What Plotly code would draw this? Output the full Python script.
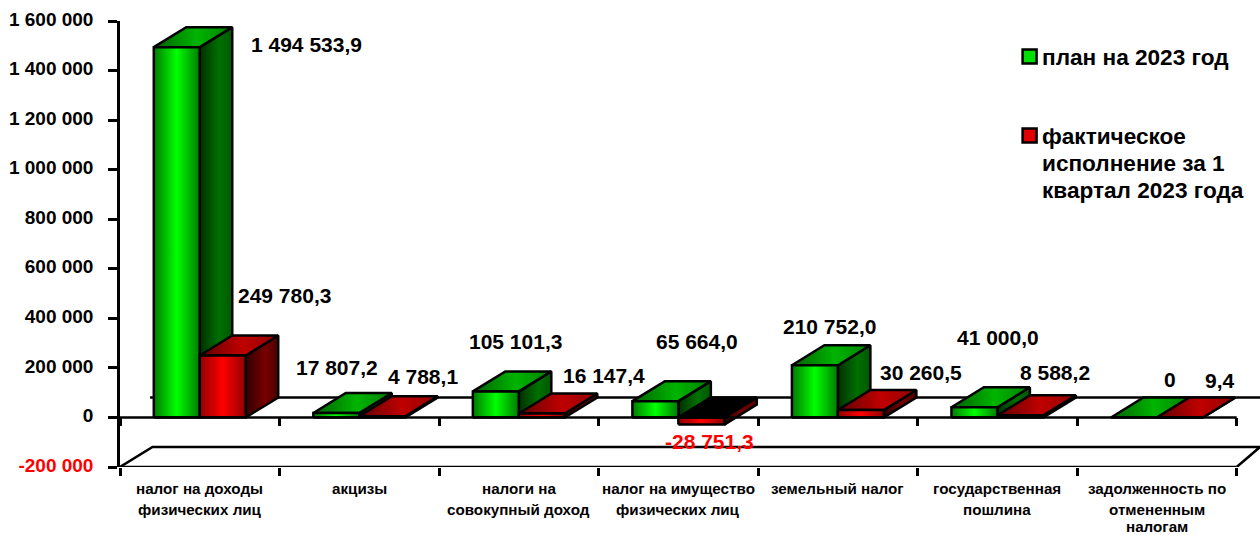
import plotly.graph_objects as go

# ---- data ----
categories = [
    ["налог на доходы", "физических лиц"],
    ["акцизы"],
    ["налоги на", "совокупный доход"],
    ["налог на имущество", "физических лиц"],
    ["земельный налог"],
    ["государственная", "пошлина"],
    ["задолженность по", "отмененным", "налогам"],
]
plan = [1494533.9, 17807.2, 105101.3, 65664.0, 210752.0, 41000.0, 0.0]
fact = [249780.3, 4788.1, 16147.4, -28751.3, 30260.5, 8588.2, 9.4]
plan_labels = ["1 494 533,9", "17 807,2", "105 101,3", "65 664,0", "210 752,0", "41 000,0", "0"]
fact_labels = ["249 780,3", "4 788,1", "16 147,4", "-28 751,3", "30 260,5", "8 588,2", "9,4"]
y_ticks = [-200000, 0, 200000, 400000, 600000, 800000, 1000000, 1200000, 1400000, 1600000]
y_tick_labels = ['<span style="color:#ff0000">-200 000</span>', "0", "200 000", "400 000", "600 000",
                 "800 000", "1 000 000", "1 200 000", "1 400 000", "1 600 000"]
legend_plan = ["план на 2023 год"]
legend_fact = ["фактическое", "исполнение за 1", "квартал 2023 года"]

# ---- layout constants ----
W, H = 1260, 535
L, R_PX, T, B_PX = 119.5, 1260.0, 20.6, 466.6
CAT_PX = 159.6
BAR = 46.0 / CAT_PX
DX = 32.5 / CAT_PX
DY = 20.0 * 1800000 / (B_PX - T)
X_MAX = (R_PX - L) / CAT_PX
FONT = "Liberation Sans"
LW = 2.5
CAT_LINE_Y = [488, 509, 526.5]

plan_shift = [(130, 2.7), (1, 45.6), (20, 50), (42, 59.7), (15, 38.8), (24, 69.8), (36, 38)]
fact_shift = [(62, 60), (41, 39.8), (62, 38), (8, -17), (60, 37.5), (34.5, 42.9), (40, 37)]

GREEN = dict(
    front=[[0, "#007a00"], [0.5, "#00ff00"], [1, "#007a00"]],
    top=[[0, "#006000"], [0.55, "#00b400"], [1, "#008000"]],
    side=[[0, "#003000"], [0.6, "#007000"], [1, "#005800"]],
)
RED = dict(
    front=[[0, "#900000"], [0.5, "#ff0000"], [1, "#900000"]],
    top=[[0, "#600000"], [0.55, "#c00000"], [1, "#900000"]],
    side=[[0, "#300000"], [0.6, "#780000"], [1, "#480000"]],
)


def poly(xs, ys, scale=None, solid=None):
    t = go.Scatter(
        x=xs + xs[:1], y=ys + ys[:1], mode="lines", fill="toself",
        line=dict(color="#000000", width=LW), hoverinfo="skip", showlegend=False,
    )
    if solid:
        t.fillcolor = solid
    else:
        t.fillgradient = dict(type="horizontal", colorscale=scale)
    return t


def bar3d(x0, v, pal):
    x1 = x0 + BAR
    top = max(v, 0)
    low = min(v, 0)
    out = [poly([x1, x1 + DX, x1 + DX, x1], [low, low + DY, top + DY, top], pal["side"])]
    # top face (seen in black for a negative value)
    if v < 0:
        out.append(poly([x0, x1, x1 + DX, x0 + DX], [0, 0, DY, DY], solid="#000000"))
    else:
        out.append(poly([x0, x1, x1 + DX, x0 + DX], [v, v, v + DY, v + DY], pal["top"]))
    if v != 0:
        out.append(poly([x0, x1, x1, x0], [low, low, top, top], pal["front"]))
    return out


fig = go.Figure()
n = len(categories)

# wall / floor lines
line = dict(color="#000000", width=LW)
fig.add_trace(go.Scatter(x=[DX - 0.015, X_MAX], y=[DY, DY], mode="lines", line=line,
                         hoverinfo="skip", showlegend=False))
fig.add_trace(go.Scatter(x=[0, DX, X_MAX, n], y=[-200000, -200000 + DY, -200000 + DY, -200000],
                         mode="lines", line=line, hoverinfo="skip", showlegend=False))
fig.add_trace(go.Scatter(x=[0, n], y=[-200000, -200000], mode="lines", line=line,
                         hoverinfo="skip", showlegend=False))

# bars
for i in range(n):
    for t in bar3d(i + 0.5 - BAR, plan[i], GREEN):
        fig.add_trace(t)
    for t in bar3d(i + 0.5, fact[i], RED):
        fig.add_trace(t)

# zero line, with its own ticks
fig.add_trace(go.Scatter(x=[0, n], y=[0, 0], mode="lines", line=line,
                         xaxis="x2", hoverinfo="skip", showlegend=False))

ann = []
# value labels
for i in range(n):
    ann.append(dict(x=i + 0.5 - BAR / 2, y=plan[i], text="<b>" + plan_labels[i] + "</b>", xshift=plan_shift[i][0],
                    yshift=plan_shift[i][1], showarrow=False,
                    font=dict(family=FONT, size=21, color="#000000")))
    ann.append(dict(x=i + 0.5 + BAR / 2, y=fact[i], text="<b>" + fact_labels[i] + "</b>", xshift=fact_shift[i][0],
                    yshift=fact_shift[i][1], showarrow=False,
                    font=dict(family=FONT, size=21, color="#ff0000" if fact[i] < 0 else "#000000")))


def px(x):
    return (x - L) / (R_PX - L)


def py(y):
    return (B_PX - y) / (B_PX - T)


# category labels, line by line
for i, lines in enumerate(categories):
    for j, s in enumerate(lines):
        ann.append(dict(x=i + 0.5, y=py(CAT_LINE_Y[j]), yref="paper", text="<b>" + s + "</b>", showarrow=False,
                        yanchor="middle", font=dict(family=FONT, size=15.2, color="#000000")))

# legend
for s, yy in zip(legend_plan + legend_fact, [57, 136, 163, 190]):
    ann.append(dict(x=px(1040), y=py(yy), xref="paper", yref="paper", text="<b>" + s + "</b>", xanchor="left",
                    yanchor="middle", showarrow=False, font=dict(family=FONT, size=22.6, color="#000000")))

shapes = []
for y0, col in [(49, "#00e000"), (128, "#e00000")]:
    shapes.append(dict(type="rect", xref="paper", yref="paper", x0=px(1022.5), x1=px(1036.5),
                       y0=py(y0), y1=py(y0 + 14), fillcolor=col, line=dict(color="#000000", width=LW)))

fig.update_layout(
    width=W, height=H, paper_bgcolor="#ffffff", plot_bgcolor="#ffffff", showlegend=False,
    margin=dict(l=L, r=W - R_PX, t=T, b=H - B_PX, pad=0),
    annotations=ann, shapes=shapes,
    font=dict(family=FONT, color="#000000"),
    xaxis=dict(range=[0, X_MAX], tickmode="array", tickvals=list(range(n + 1)), ticktext=[""] * (n + 1),
               ticks="outside", ticklen=8, tickwidth=LW, tickcolor="#000000", showgrid=False, zeroline=False,
               showline=False, fixedrange=True),
    xaxis2=dict(range=[0, X_MAX], overlaying="x", anchor="free", position=200000 / 1800000, side="bottom",
                tickmode="array", tickvals=list(range(n + 1)), ticktext=[""] * (n + 1),
                ticks="outside", ticklen=8, tickwidth=LW, tickcolor="#000000", showgrid=False, zeroline=False,
                showline=False, fixedrange=True),
    yaxis=dict(range=[-200000, 1600000], tickmode="array", tickvals=y_ticks,
               ticktext=["<b>" + s + "</b>" for s in y_tick_labels],
               ticks="outside", ticklen=9, tickwidth=LW, tickcolor="#000000", showgrid=False, zeroline=False,
               showline=True, linecolor="#000000", linewidth=LW, ticklabelstandoff=11, ticklabelshift=-2,
               tickfont=dict(family=FONT, size=19, color="#000000"), fixedrange=True),
)

fig.write_html("out.html", post_script="document.body.style.margin='0';", config=dict(displayModeBar=False))
